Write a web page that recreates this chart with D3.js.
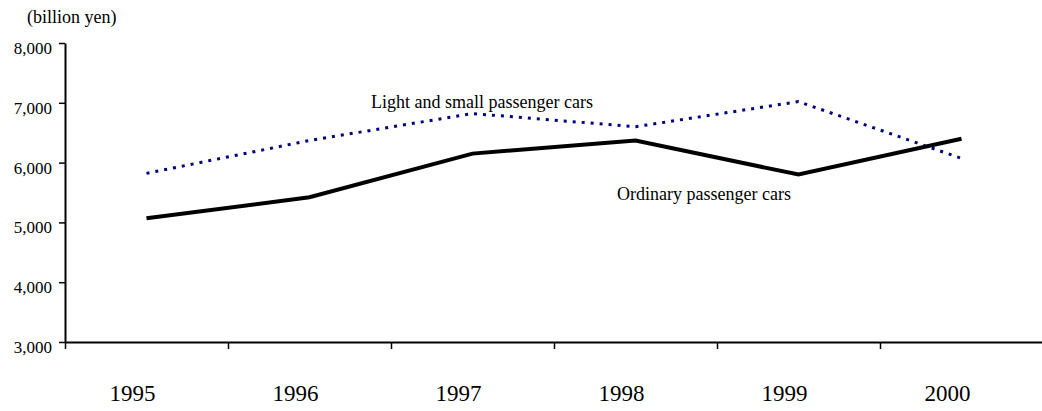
<!DOCTYPE html>
<html>
<head>
<meta charset="utf-8">
<script src="https://cdn.jsdelivr.net/npm/d3@7"></script>
<style>
  body { margin: 0; background: #fff; }
  svg text { font-family: "Liberation Serif", "Times New Roman", serif; fill: #000; }
</style>
</head>
<body>
<div id="chart"></div>
<script>
const years = ["1995", "1996", "1997", "1998", "1999", "2000"];
const ordinary = [5070, 5420, 6150, 6370, 5800, 6400];
const lightSmall = [5820, 6370, 6820, 6600, 7020, 6070];
const yTicks = [3000, 4000, 5000, 6000, 7000, 8000];

const width = 1042;
const height = 411;

const svg = d3.select("#chart")
    .append("svg")
    .attr("width", width)
    .attr("height", height)
    .attr("font-family", "Liberation Serif, serif");

const x = d3.scaleBand().domain(years).range([65, 1043]);
const y = d3.scaleLinear().domain([3000, 8000]).range([342, 43]);

// y axis
const yAxis = svg.append("g")
    .attr("transform", "translate(65,0)")
    .call(d3.axisLeft(y).tickValues(yTicks).tickFormat(d3.format(",")).tickSize(6).tickSizeOuter(0));
yAxis.attr("font-family", null);
yAxis.select(".domain").attr("stroke-width", 2);
yAxis.selectAll(".tick line").attr("stroke-width", 1.5);
yAxis.selectAll(".tick text")
    .attr("x", -13)
    .attr("dy", "0.62em")
    .style("font-size", "17px");

// x axis line + ticks at band edges
const edges = d3.scaleLinear().domain([0, years.length]).range(x.range());
const xEdge = svg.append("g")
    .attr("transform", "translate(0,342)")
    .call(d3.axisBottom(edges).tickValues(d3.range(years.length)).tickFormat("").tickSize(7).tickSizeOuter(0));
xEdge.select(".domain").attr("stroke-width", 2);
xEdge.selectAll(".tick line").attr("stroke-width", 1.5);

// year labels
const xAxis = svg.append("g")
    .attr("transform", "translate(0,342)")
    .call(d3.axisBottom(x).tickSize(0));
xAxis.attr("font-family", null);
xAxis.select(".domain").remove();
xAxis.selectAll(".tick text")
    .attr("y", 0)
    .attr("dy", "59px")
    .attr("dx", -14)
    .style("font-size", "23px");

const line = d3.line()
    .x((d, i) => x(years[i]) + x.bandwidth() / 2)
    .y(d => y(d));

svg.append("path")
    .datum(lightSmall)
    .attr("fill", "none")
    .attr("stroke", "#000080")
    .attr("stroke-width", 3)
    .attr("stroke-dasharray", "3,6")
    .attr("d", line);

svg.append("path")
    .datum(ordinary)
    .attr("fill", "none")
    .attr("stroke", "#000")
    .attr("stroke-width", 4)
    .attr("d", line);

// labels
svg.append("text")
    .attr("x", 27)
    .attr("y", 23)
    .style("font-size", "18px")
    .text("(billion yen)");

svg.append("text")
    .attr("x", 371)
    .attr("y", 108)
    .style("font-size", "18px")
    .text("Light and small passenger cars");

svg.append("text")
    .attr("x", 617)
    .attr("y", 200)
    .style("font-size", "18px")
    .text("Ordinary passenger cars");
</script>
</body>
</html>
